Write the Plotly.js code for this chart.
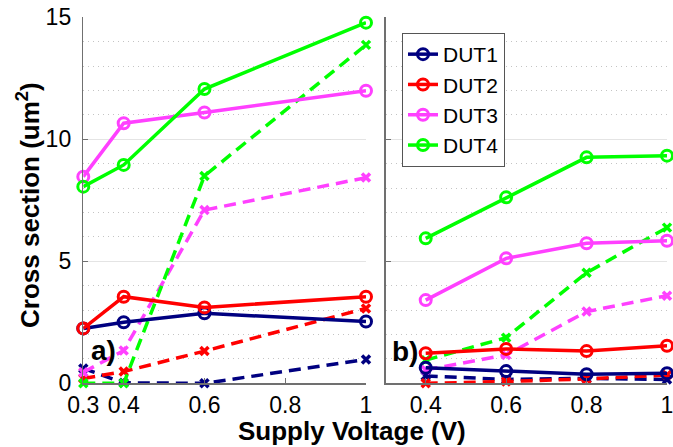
<!DOCTYPE html>
<html>
<head>
<meta charset="utf-8">
<script src="https://cdn.plot.ly/plotly-3.0.1.min.js"></script>
<style>html,body{margin:0;padding:0;background:#fff;}#chart{width:673px;height:447px;}</style>
</head>
<body>
<div id="chart"></div>
<script>
// ---- data ----
const voltA = [0.3, 0.4, 0.6, 1];
const voltB = [0.4, 0.6, 0.8, 1];
const dutNames = ['DUT1', 'DUT2', 'DUT3', 'DUT4'];
const dutColors = ['#000080', '#ff0000', '#ff40ff', '#00ff00'];

// panel a) solid (circle) series
const dut1SolidA = [2.25, 2.50, 2.87, 2.53];
const dut2SolidA = [2.25, 3.55, 3.11, 3.55];
const dut3SolidA = [8.47, 10.66, 11.10, 11.99];
const dut4SolidA = [8.06, 8.95, 12.06, 14.78];
// panel a) dashed (x) series
const dut1DashA = [0.61, 0.02, 0.00, 0.98];
const dut2DashA = [0.20, 0.48, 1.32, 3.07];
const dut3DashA = [0.45, 1.34, 7.10, 8.43];
const dut4DashA = [0.00, 0.00, 8.50, 13.87];

// panel b) solid (circle) series
const dut1SolidB = [0.64, 0.50, 0.37, 0.41];
const dut2SolidB = [1.23, 1.41, 1.32, 1.54];
const dut3SolidB = [3.41, 5.12, 5.74, 5.84];
const dut4SolidB = [5.94, 7.62, 9.26, 9.33];
// panel b) dashed (x) series
const dut1DashB = [0.30, 0.16, 0.20, 0.16];
const dut2DashB = [0.00, 0.07, 0.18, 0.34];
const dut3DashB = [0.55, 1.16, 2.94, 3.59];
const dut4DashB = [0.95, 1.87, 4.53, 6.38];

const ticksA = [0.3, 0.4, 0.6, 0.8, 1];
const ticksB = [0.4, 0.6, 0.8, 1];
const ticksY = [0, 5, 10, 15];

// ---- traces ----
const solidA = [dut1SolidA, dut2SolidA, dut3SolidA, dut4SolidA];
const dashA = [dut1DashA, dut2DashA, dut3DashA, dut4DashA];
const solidB = [dut1SolidB, dut2SolidB, dut3SolidB, dut4SolidB];
const dashB = [dut1DashB, dut2DashB, dut3DashB, dut4DashB];

function dashTrace(x, y, i, xa, ya) {
  return {
    x: x, y: y, xaxis: xa, yaxis: ya, mode: 'lines+markers', showlegend: false,
    cliponaxis: false, name: dutNames[i],
    line: {color: dutColors[i], width: 3.5, dash: '12px,7px'},
    marker: {symbol: 'x-thin-open', size: 8, color: dutColors[i], line: {color: dutColors[i], width: 3.5}}
  };
}
function solidTrace(x, y, i, xa, ya, legend) {
  return {
    x: x, y: y, xaxis: xa, yaxis: ya, mode: 'lines+markers', showlegend: legend,
    cliponaxis: false, name: dutNames[i], legendgroup: dutNames[i],
    line: {color: dutColors[i], width: 3.5},
    marker: {symbol: 'circle-open', size: 11, color: dutColors[i], line: {color: dutColors[i], width: 3}}
  };
}

const traces = [];
for (let i = 0; i < 4; i++) traces.push(dashTrace(voltA, dashA[i], i, 'x', 'y'));
for (let i = 0; i < 4; i++) traces.push(dashTrace(voltB, dashB[i], i, 'x2', 'y2'));
for (let i = 0; i < 4; i++) traces.push(solidTrace(voltA, solidA[i], i, 'x', 'y', false));
for (let i = 0; i < 4; i++) traces.push(solidTrace(voltB, solidB[i], i, 'x2', 'y2', true));

const W = 673, H = 447;
const font = 'Arial';
const axisCol = '#707070';

function yAxis(domainX, labels) {
  return {
    range: [0, 15], domain: [(H - 383.3) / H, (H - 17.3) / H], anchor: domainX,
    tickvals: ticksY, ticktext: ticksY.map(String), showticklabels: labels,
    ticks: 'inside', ticklen: 5, tickcolor: axisCol, tickwidth: 1,
    ticklabelstandoff: 6,
    showline: true, linecolor: axisCol, linewidth: 1.5,
    showgrid: true, gridcolor: '#e4e4e4', gridwidth: 1,
    minor: {dtick: 1, showgrid: true, gridcolor: '#c4c4c4', griddash: '1px,4px', gridwidth: 1, ticks: ''},
    zeroline: false, fixedrange: true,
    tickfont: {family: font, size: 23, color: '#000'}
  };
}
function xAxis(d0, d1, ticks, anchor) {
  return {
    range: [0.3, 1], domain: [d0 / W, d1 / W], anchor: anchor,
    tickvals: ticks, ticktext: ticks.map(String),
    ticks: 'inside', ticklen: 5, tickcolor: axisCol, tickwidth: 1,
    ticklabeloverflow: 'allow', ticklabelstandoff: 1,
    showline: true, linecolor: axisCol, linewidth: 1.5,
    showgrid: false, zeroline: false, fixedrange: true,
    tickfont: {family: font, size: 23, color: '#000'}
  };
}

const layout = {
  width: W, height: H,
  margin: {l: 0, r: 0, t: 0, b: 0},
  paper_bgcolor: '#fff', plot_bgcolor: 'rgba(0,0,0,0)',
  font: {family: font, color: '#000'},
  xaxis: xAxis(83.3, 366, ticksA, 'y'),
  xaxis2: xAxis(385.5, 667, ticksB, 'y2'),
  yaxis: yAxis('x', true),
  yaxis2: yAxis('x2', false),
  showlegend: true,
  legend: {
    x: 402 / W, y: (H - 33) / H, xanchor: 'left', yanchor: 'top',
    bgcolor: '#fff', bordercolor: '#555', borderwidth: 1,
    font: {family: font, size: 21, color: '#000'}, tracegroupgap: 0
  },
  annotations: [
    {text: '<b>Supply Voltage (V)</b>', xref: 'paper', yref: 'paper', x: 351.5 / W, y: (H - 431) / H,
     xanchor: 'center', yanchor: 'middle', showarrow: false, font: {family: font, size: 26, color: '#000'}},
    {text: '<b>Cross section (um<sup>2</sup>)</b>', xref: 'paper', yref: 'paper', x: 28 / W, y: (H - 205) / H,
     xanchor: 'center', yanchor: 'middle', textangle: -90, showarrow: false, font: {family: font, size: 26, color: '#000'}},
    {text: '<b>a)</b>', xref: 'paper', yref: 'paper', x: 103 / W, y: (H - 350) / H,
     xanchor: 'center', yanchor: 'middle', showarrow: false, font: {family: font, size: 28, color: '#000'}},
    {text: '<b>b)</b>', xref: 'paper', yref: 'paper', x: 405 / W, y: (H - 351) / H,
     xanchor: 'center', yanchor: 'middle', showarrow: false, font: {family: font, size: 28, color: '#000'}}
  ]
};

Plotly.newPlot('chart', traces, layout, {displayModeBar: false, staticPlot: true});
</script>
</body>
</html>
